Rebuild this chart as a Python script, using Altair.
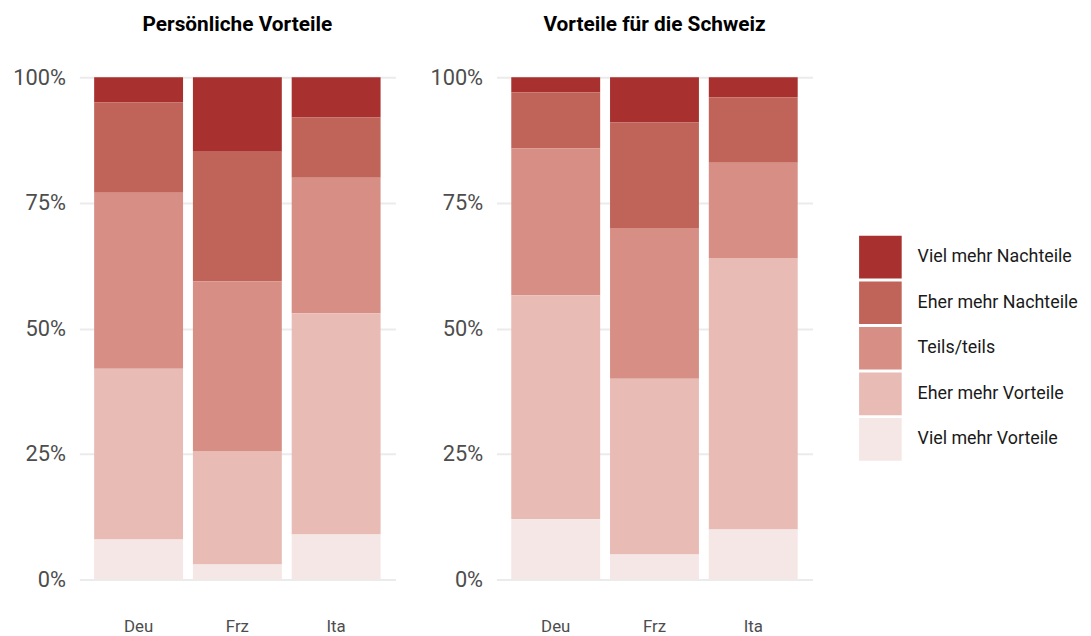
import altair as alt
import pandas as pd

panels = ["Persönliche Vorteile", "Vorteile für die Schweiz"]
regions = ["Deu", "Frz", "Ita"]
levels = ["Viel mehr Nachteile", "Eher mehr Nachteile", "Teils/teils",
          "Eher mehr Vorteile", "Viel mehr Vorteile"]
colors = ["#A8302E", "#C06358", "#D78E84", "#E8BBB5", "#F5E7E6"]

# shares in percent, in the order of `levels`
pers_deu = [5, 18, 35, 34, 8]
pers_frz = [14.8, 25.8, 33.8, 22.6, 3]
pers_ita = [8, 12, 27, 44, 9]
ch_deu = [3, 11.2, 29.2, 44.6, 12]
ch_frz = [9, 21, 30, 35, 5]
ch_ita = [4, 13, 19, 54, 10]

series = {
    (panels[0], "Deu"): pers_deu,
    (panels[0], "Frz"): pers_frz,
    (panels[0], "Ita"): pers_ita,
    (panels[1], "Deu"): ch_deu,
    (panels[1], "Frz"): ch_frz,
    (panels[1], "Ita"): ch_ita,
}

rows = []
for (p, r), vals in series.items():
    for i, (lvl, v) in enumerate(zip(levels, vals)):
        rows.append({"panel": p, "region": r, "level": lvl,
                     "rank": len(levels) - 1 - i, "value": v / 100})
df = pd.DataFrame(rows)

FONT = "Roboto"


def panel(name):
    return alt.Chart(df).transform_filter(alt.datum.panel == name).mark_bar().encode(
        x=alt.X("region:N", sort=regions,
                scale=alt.Scale(paddingInner=0.1, paddingOuter=0.15),
                axis=alt.Axis(title=None, labelAngle=0, ticks=False, domain=False,
                              grid=False, labelPadding=39, labelFontSize=17,
                              labelFont=FONT, labelColor="#4d4d4d")),
        y=alt.Y("value:Q", stack="zero", scale=alt.Scale(domain=[0, 1], nice=False),
                axis=alt.Axis(title=None, values=[0, 0.25, 0.5, 0.75, 1], format=".0%",
                              ticks=False, domain=False, labelPadding=14,
                              labelFontSize=22, labelFont=FONT, labelColor="#4d4d4d",
                              gridColor="#ebebeb", gridWidth=2)),
        color=alt.Color("level:N",
                        scale=alt.Scale(domain=levels, range=colors),
                        legend=alt.Legend(title=None, orient="none", legendX=787,
                                          legendY=160, labelLimit=0)),
        order=alt.Order("rank:Q", sort="ascending"),
    ).properties(
        width=319, height=507,
        title=alt.TitleParams(name, fontSize=21, fontWeight="bold", font=FONT,
                              anchor="middle", offset=32, color="#000000"),
    )


chart = alt.hconcat(panel(panels[0]), panel(panels[1]), spacing=34).properties(
    padding={"left": 4, "top": 3, "right": 5, "bottom": 0}
).configure_view(stroke=None).configure_legend(
    symbolType="square", symbolSize=1849, symbolStrokeWidth=0,
    labelFontSize=18, labelFont=FONT, labelColor="#1a1a1a",
    rowPadding=3, labelOffset=16, padding=0,
)

chart.save("out.html", embed_options={"renderer": "svg", "actions": False})
